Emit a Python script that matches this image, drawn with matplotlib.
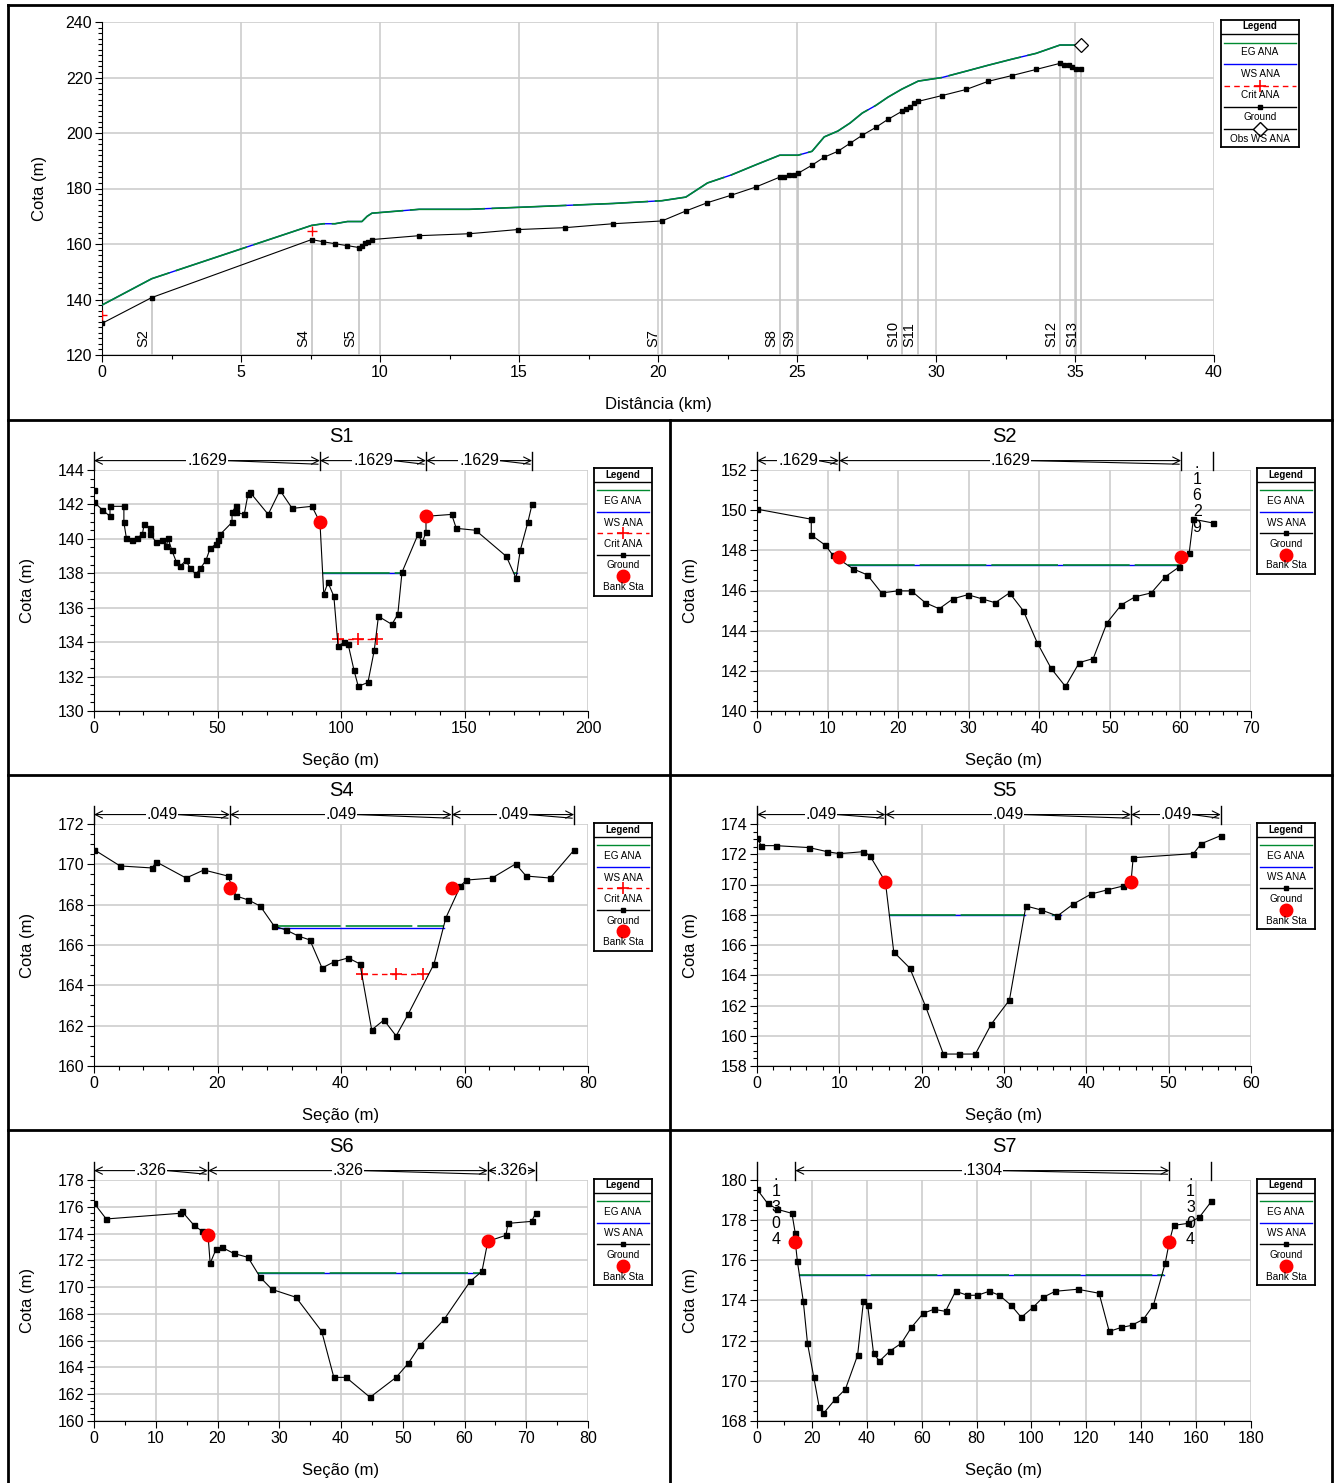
import matplotlib
matplotlib.use('Agg')
import numpy as np
import matplotlib.pyplot as plt
import matplotlib.transforms as mtransforms
from matplotlib.lines import Line2D
from matplotlib.ticker import MultipleLocator

plt.rcParams['font.family'] = ['Liberation Sans', 'DejaVu Sans']

W, H = 1339, 1483
GREEN = '#008a30'
BLUE = '#0000ff'
GRID = '#cdcdcd'

# ---------------- longitudinal profile ----------------
ground_km = [0, 1.79, 7.54, 7.96, 8.38, 8.83, 9.26, 9.35, 9.47, 9.56, 9.71, 11.41, 13.21,
             14.95, 16.67, 18.38, 20.14, 21.0, 21.78, 22.64, 23.51, 24.38, 24.54, 24.73,
             24.88, 25.04, 25.54, 25.98, 26.47, 26.91, 27.35, 27.83, 28.27, 28.77, 28.92,
             29.08, 29.22, 29.36, 30.22, 31.09, 31.87, 32.73, 33.6, 34.46, 34.62, 34.78,
             34.91, 35.05, 35.2]
ground_z = [131.4, 140.7, 161.6, 160.8, 160.1, 159.4, 158.7, 159.4, 160.4, 160.8, 161.6,
            163.0, 163.7, 165.2, 165.9, 167.3, 168.3, 171.9, 174.9, 177.6, 180.5, 184.1,
            184.1, 184.8, 184.8, 185.5, 188.4, 191.3, 193.4, 196.3, 199.2, 202.0, 204.9,
            207.8, 208.5, 209.2, 210.7, 211.4, 213.5, 215.7, 218.6, 220.7, 222.9, 225.1,
            224.4, 224.4, 223.7, 223.0, 223.0]
eg_km = [0, 1.79, 7.54, 7.96, 8.38, 8.83, 9.35, 9.54, 9.71, 11.41, 13.21, 14.95, 16.67,
         18.38, 20.14, 21.0, 21.78, 22.64, 23.51, 24.38, 25.04, 25.54, 25.98, 26.47, 26.91,
         27.35, 27.83, 28.27, 28.77, 29.36, 30.22, 31.09, 31.87, 32.73, 33.6, 34.46, 35.2]
eg_z = [138.0, 147.5, 166.7, 167.3, 167.3, 168.1, 168.1, 170.0, 171.1, 172.5, 172.5, 173.2,
        173.9, 174.6, 175.6, 176.9, 182.0, 184.9, 188.5, 192.0, 192.0, 193.4, 198.6, 200.7,
        203.6, 207.2, 209.9, 212.9, 215.8, 218.7, 220.0, 222.3, 224.4, 226.6, 228.7, 231.7,
        231.7]
ws_z = eg_z
crit_km = [0, 7.54]
crit_z = [134.5, 164.6]
obs_km = [35.2]
obs_z = [231.6]
sec_names = ['S2', 'S4', 'S5', 'S7', 'S8', 'S9', 'S10', 'S11', 'S12', '', 'S13']
sec_km = [1.79, 7.54, 9.26, 20.14, 24.38, 25.04, 28.77, 29.36, 34.46, 35.05, 35.2]

# ---------------- cross sections ----------------
s1_x = [0, 0, 3.41, 6.47, 6.47, 12.10, 12.10, 13.12, 15.33, 17.21, 19.59, 20.27, 22.83, 22.83,
        25.21, 27.43, 29.30, 29.98, 31.52, 33.39, 34.92, 37.14, 39.01, 41.23, 43.10, 45.32,
        47.02, 49.23, 50.09, 51.11, 55.88, 55.88, 57.41, 57.58, 60.82, 62.35, 63.20, 70.53,
        75.30, 80.24, 88.25, 91.48, 93.02, 94.72, 97.11, 98.81, 101.20, 102.90, 105.28,
        106.99, 110.91, 113.46, 115.16, 120.61, 123.00, 124.70, 131.18, 132.88, 134.41,
        134.41, 144.80, 146.67, 154.51, 166.95, 170.87, 172.57, 175.64, 177.35]
s1_z = [142.84, 142.14, 141.68, 141.31, 141.89, 141.89, 140.96, 140.03, 139.91, 140.03,
        140.26, 140.84, 140.61, 140.26, 139.80, 139.91, 139.57, 140.03, 139.33, 138.64,
        138.40, 138.75, 138.29, 137.94, 138.29, 138.75, 139.45, 139.68, 139.91, 140.26,
        140.96, 141.54, 141.89, 141.54, 141.42, 142.59, 142.70, 141.42, 142.82, 141.77,
        141.89, 140.96, 136.78, 137.47, 136.66, 133.76, 133.99, 133.87, 132.36, 131.43,
        131.66, 133.52, 135.50, 135.03, 135.62, 138.06, 140.26, 139.80, 140.38, 141.31,
        141.42, 140.61, 140.50, 138.98, 137.71, 139.33, 140.96, 142.01]
s1_bank_x = [91.48, 134.41]
s1_bank_z = [140.96, 141.31]
s1_ws = 138.0
s1_ws_spans = [(92.6, 124.7), (40.85, 41.55), (169.97, 171.17)]
s1_crit = 134.2
s1_crit_x = [98.8, 106.8, 114.65]
s1_n_x = [0, 91.48, 134.41, 177.35]
s1_n = ['.1629', '.1629', '.1629']

s2_x = [0, 7.69, 7.69, 9.66, 10.73, 13.65, 15.62, 17.65, 19.92, 21.88, 23.85, 25.82, 27.79,
        29.87, 31.84, 33.75, 35.78, 37.74, 39.71, 41.68, 43.71, 45.67, 47.64, 49.61, 51.64,
        53.60, 55.87, 57.84, 59.81, 61.24, 61.83, 64.64]
s2_z = [150.05, 149.55, 148.76, 148.26, 147.77, 147.07, 146.78, 145.88, 145.98, 145.98,
        145.39, 145.09, 145.59, 145.79, 145.59, 145.39, 145.88, 144.99, 143.40, 142.12,
        141.22, 142.41, 142.61, 144.40, 145.29, 145.69, 145.88, 146.68, 147.17, 147.87,
        149.55, 149.36]
s2_bank_x = [11.63, 60.10]
s2_bank_z = [147.67, 147.67]
s2_ws = 147.25
s2_ws_spans = [(12.9, 60.1)]
s2_n_x = [0, 11.63, 60.10, 64.64]
s2_n = ['.1629', '.1629', '.1629']

s4_x = [0, 4.22, 9.40, 10.09, 14.92, 17.79, 21.67, 23.03, 25.01, 26.92, 29.17, 31.14, 33.05,
        34.96, 36.93, 38.84, 41.16, 43.07, 44.97, 46.95, 48.93, 50.90, 55.06, 56.97, 59.35,
        60.31, 64.46, 68.28, 69.98, 73.87, 77.75]
s4_z = [170.73, 169.92, 169.82, 170.12, 169.32, 169.72, 169.42, 168.43, 168.23, 167.93,
        166.94, 166.74, 166.45, 166.25, 164.86, 165.16, 165.36, 165.06, 161.79, 162.28,
        161.49, 162.58, 165.06, 167.34, 168.93, 169.22, 169.32, 170.02, 169.42, 169.32,
        170.71]
s4_bank_x = [22.01, 57.92]
s4_bank_z = [168.83, 168.83]
s4_eg = 166.94
s4_ws = 166.84
s4_ws_spans = [(29.2, 56.6)]
s4_crit = 164.57
s4_crit_x = [43.34, 48.93, 53.29]
s4_n_x = [0, 22.01, 57.92, 77.75]
s4_n = ['.049', '.049', '.049']

s5_x = [0, 0.51, 2.25, 6.34, 8.53, 10.02, 12.93, 13.70, 15.59, 16.61, 18.55, 20.44, 22.64,
        24.58, 26.52, 28.47, 30.66, 32.66, 34.55, 36.49, 38.43, 40.58, 42.52, 44.46, 45.43,
        45.69, 53.00, 53.97, 56.32]
s5_z = [173.10, 172.57, 172.57, 172.44, 172.17, 172.04, 172.17, 171.91, 170.19, 165.54,
        164.48, 161.99, 158.79, 158.79, 158.79, 160.78, 162.36, 168.58, 168.31, 167.92,
        168.71, 169.37, 169.64, 169.90, 170.19, 171.77, 172.04, 172.70, 173.23]
s5_bank_x = [15.59, 45.43]
s5_bank_z = [170.19, 170.19]
s5_ws = 168.0
s5_ws_spans = [(16.0, 32.5), (35.8, 36.9)]
s5_n_x = [0, 15.59, 45.43, 56.32]
s5_n = ['.049', '.049', '.049']

s6_x = [0, 1.98, 13.90, 14.24, 16.15, 17.44, 18.47, 18.81, 19.76, 20.72, 22.62, 24.94, 26.92,
        28.82, 32.71, 36.87, 38.84, 40.82, 44.70, 48.93, 50.90, 52.81, 56.70, 60.92, 62.83,
        63.78, 66.71, 67.05, 70.87, 71.55]
s6_z = [176.28, 175.09, 175.51, 175.66, 174.64, 174.19, 173.87, 171.78, 172.82, 172.97,
        172.52, 172.22, 170.73, 169.83, 169.24, 166.70, 163.26, 163.26, 161.77, 163.26,
        164.31, 165.65, 167.59, 170.43, 171.18, 173.42, 173.87, 174.76, 174.91, 175.54]
s6_bank_x = [18.47, 63.78]
s6_bank_z = [173.87, 173.42]
s6_ws = 171.03
s6_ws_spans = [(26.6, 62.9)]
s6_n_x = [0, 18.47, 63.78, 71.55]
s6_n = ['.326', '.326', '.326']

s7_x = [0, 3.83, 7.36, 12.73, 13.95, 13.95, 14.72, 16.87, 18.40, 20.70, 22.69, 24.23, 28.52,
        32.20, 36.65, 38.79, 40.33, 42.47, 44.62, 48.30, 52.59, 56.27, 60.56, 64.40, 68.69,
        72.37, 76.66, 80.34, 84.64, 88.32, 92.61, 96.29, 100.58, 104.26, 108.71, 116.84,
        124.65, 128.34, 132.78, 136.46, 140.75, 144.43, 148.73, 150.26, 151.79, 157.01,
        161.15, 165.60]
s7_z = [179.54, 178.84, 178.54, 178.34, 177.34, 176.93, 175.95, 173.96, 171.87, 170.17,
        168.68, 168.38, 169.08, 169.58, 171.27, 173.96, 173.76, 171.37, 170.98, 171.47,
        171.87, 172.66, 173.36, 173.56, 173.46, 174.46, 174.26, 174.26, 174.46, 174.26,
        173.76, 173.16, 173.66, 174.16, 174.46, 174.56, 174.36, 172.46, 172.66, 172.76,
        173.06, 173.76, 175.85, 176.93, 177.74, 177.84, 178.14, 178.94]
s7_bank_x = [13.95, 150.26]
s7_bank_z = [176.93, 176.93]
s7_ws = 175.25
s7_ws_spans = [(15.3, 148.2)]
s7_n_x = [0, 13.95, 150.26, 165.60]
s7_n = ['.1304', '.1304', '.1304']

fig = plt.figure(figsize=(W / 100, H / 100), dpi=100)


def px_rect(x0, y0, x1, y1):
    return [x0 / W, 1 - y1 / H, (x1 - x0) / W, (y1 - y0) / H]


def fig_line(x0, y0, x1, y1):
    fig.add_artist(Line2D([x0 / W, x1 / W], [1 - y0 / H, 1 - y1 / H], color='black', lw=2))


def style(ax, xlim, ylim, xmaj, xmin, ymaj, ymin):
    ax.set_xlim(*xlim)
    ax.set_ylim(*ylim)
    ax.xaxis.set_major_locator(MultipleLocator(xmaj))
    ax.xaxis.set_minor_locator(MultipleLocator(xmin))
    ax.yaxis.set_major_locator(MultipleLocator(ymaj))
    ax.yaxis.set_minor_locator(MultipleLocator(ymin))
    ax.grid(True, which='major', color=GRID, lw=1.2)
    ax.set_axisbelow(True)
    ax.spines['top'].set_visible(False)
    ax.spines['right'].set_visible(False)
    ax.tick_params(which='major', direction='out', length=5, width=0.8, labelsize=11.5, pad=2)
    ax.tick_params(which='minor', direction='out', length=3, width=0.8)


def legend_box(x, y, w, h, keys, first=22, step=21.5, off=11):
    lax = fig.add_axes(px_rect(x, y, x + w, y + h))
    lax.set_xlim(0, w)
    lax.set_ylim(h, 0)
    lax.set_xticks([])
    lax.set_yticks([])
    for s in lax.spines.values():
        s.set_linewidth(1.3)
    lax.text(w / 2, 6.5, 'Legend', ha='center', va='center', fontsize=7, fontweight='bold')
    lax.plot([0, w], [14, 14], color='black', lw=1)
    labels = {'eg': 'EG ANA', 'ws': 'WS ANA', 'crit': 'Crit ANA', 'ground': 'Ground',
              'bank': 'Bank Sta', 'obs': 'Obs WS ANA'}
    for i, k in enumerate(keys):
        ly = first + i * step
        xs = [3, w - 3]
        if k == 'eg':
            lax.plot(xs, [ly, ly], color=GREEN, lw=1)
        elif k == 'ws':
            lax.plot(xs, [ly, ly], color=BLUE, lw=1)
        elif k == 'crit':
            lax.plot(xs, [ly, ly], color='red', lw=1, ls=(0, (4, 3)))
            lax.plot([w / 2], [ly], '+', color='red', ms=8, mew=1.2)
        elif k == 'ground':
            lax.plot(xs, [ly, ly], color='black', lw=1)
            lax.plot([w / 2], [ly], 's', color='black', ms=3.5)
        elif k == 'bank':
            lax.plot([w / 2], [ly], 'o', color='red', ms=9)
        elif k == 'obs':
            lax.plot(xs, [ly, ly], color='black', lw=1)
            lax.plot([w / 2], [ly], 'D', mfc='white', mec='black', ms=7)
        lax.text(w / 2, ly + off, labels[k], ha='center', va='center', fontsize=7.2)


def manning(ax, bounds, labels, stacked=(), stack_y=1.054):
    tr = mtransforms.blended_transform_factory(ax.transData, ax.transAxes)
    x_per_px = (ax.get_xlim()[1] - ax.get_xlim()[0]) / 494
    for b in bounds:
        ax.plot([b, b], [1.0, 1.075], transform=tr, color='black', lw=1, clip_on=False)
    ya = 1.039
    for i, lab in enumerate(labels):
        x0, x1 = bounds[i], bounds[i + 1]
        xm = (x0 + x1) / 2
        if i in stacked:
            ax.text(xm, stack_y, '\n'.join(lab), transform=tr, ha='center', va='top',
                    fontsize=11.5, linespacing=1.08, clip_on=False)
            continue
        for xe in (x0, x1):
            ax.annotate('', xy=(xe, ya), xytext=(xm, ya), xycoords=tr, textcoords=tr,
                        arrowprops=dict(arrowstyle='->', lw=0.8, color='black',
                                        shrinkA=0, shrinkB=0, mutation_scale=13),
                        annotation_clip=False)
        half = 4.1 * len(lab) * x_per_px
        if x1 - xm > half + 8 * x_per_px:
            ax.plot([xm + half, x1 - 2 * x_per_px], [ya, ya - 0.015], transform=tr,
                    color='black', lw=0.8, clip_on=False)
        ax.text(xm, ya, lab, transform=tr, ha='center', va='center', fontsize=11.5,
                bbox=dict(fc='white', ec='none', pad=0.5), clip_on=False)


def section(rect, name, gx, gz, bx, bz, ws, spans, nx, nlab, xlim, ylim, xmaj, xmin,
            eg=None, crit=None, crit_x=None, stacked=(), stack_y=1.054):
    ax = fig.add_axes(px_rect(*rect))
    style(ax, xlim, ylim, xmaj, xmin, 2, 0.5)
    egv = ws if eg is None else eg
    for a, b in spans:
        ax.plot([a, b], [ws, ws], color=BLUE, lw=1, zorder=3)
        ax.plot([a, b], [egv, egv], color=GREEN, lw=1.2, ls=(0, (40, 3)), zorder=3)
    if crit is not None:
        ax.plot(crit_x, [crit] * len(crit_x), color='red', lw=1, ls=(0, (4, 3)),
                marker='+', ms=9, mew=1.2, zorder=4)
    ax.plot(gx, gz, color='black', lw=0.8, marker='s', ms=3.6, zorder=5)
    ax.plot(bx, bz, 'o', color='red', ms=9, zorder=6)
    manning(ax, nx, nlab, stacked, stack_y)
    ax.text(0.5, 1.14, name, transform=ax.transAxes, ha='center', va='center', fontsize=14.5)
    ax.text(-67 / 494, 0.5, 'Cota (m)', transform=ax.transAxes, rotation=90,
            ha='center', va='center', fontsize=12)
    ax.text(0.5, -49 / 241, 'Seção (m)', transform=ax.transAxes, ha='center', va='center',
            fontsize=12)
    return ax


# ---------------- top profile ----------------
ax = fig.add_axes(px_rect(102, 22, 1214, 355))
style(ax, (0, 40), (120, 240), 5, 2.5, 20, 2)
tops = np.interp(sec_km, ground_km, ground_z)
ax.vlines(sec_km, 120, tops, color='#c4c4c4', lw=1.2, zorder=1.5)
for name, km in zip(sec_names, sec_km):
    if name:
        ax.text(km - 0.06, 123, name, rotation=90, ha='right', va='bottom', fontsize=10.5)
ax.plot(eg_km, ws_z, color=BLUE, lw=1, zorder=3)
ax.plot(eg_km, eg_z, color=GREEN, lw=1.2, ls=(0, (45, 4)), zorder=3)
ax.plot(ground_km, ground_z, color='black', lw=0.8, marker='s', ms=3.2, zorder=4)
ax.plot(crit_km, crit_z, '+', color='red', ms=7, mew=1, zorder=5)
ax.plot(obs_km, obs_z, 'D', mfc='white', mec='black', ms=7, mew=0.9, zorder=6, clip_on=False)
ax.text(-0.0558, 0.5, 'Cota (m)', transform=ax.transAxes, rotation=90, ha='center',
        va='center', fontsize=12)
ax.text(0.5, -49 / 333, 'Distância (km)', transform=ax.transAxes, ha='center', va='center',
        fontsize=12)
legend_box(1221, 20, 78, 127, ['eg', 'ws', 'crit', 'ground', 'obs'], first=23, off=9.5)

# ---------------- sections ----------------
section((94, 470, 588, 711), 'S1', s1_x, s1_z, s1_bank_x, s1_bank_z, s1_ws, s1_ws_spans,
        s1_n_x, s1_n, (0, 200), (130, 144), 50, 10, crit=s1_crit, crit_x=s1_crit_x)
legend_box(594, 468, 58, 128, ['eg', 'ws', 'crit', 'ground', 'bank'])

section((757, 470, 1251, 711), 'S2', s2_x, s2_z, s2_bank_x, s2_bank_z, s2_ws, s2_ws_spans,
        s2_n_x, s2_n, (0, 70), (140, 152), 10, 2, stacked=(2,), stack_y=1.058)
legend_box(1257, 468, 58, 106, ['eg', 'ws', 'ground', 'bank'])

section((94, 824, 588, 1066), 'S4', s4_x, s4_z, s4_bank_x, s4_bank_z, s4_ws, s4_ws_spans,
        s4_n_x, s4_n, (0, 80), (160, 172), 20, 4, eg=s4_eg, crit=s4_crit, crit_x=s4_crit_x)
legend_box(594, 823, 58, 128, ['eg', 'ws', 'crit', 'ground', 'bank'])

section((757, 824, 1251, 1066), 'S5', s5_x, s5_z, s5_bank_x, s5_bank_z, s5_ws, s5_ws_spans,
        s5_n_x, s5_n, (0, 60), (158, 174), 10, 2)
legend_box(1257, 823, 58, 106, ['eg', 'ws', 'ground', 'bank'])

section((94, 1180, 588, 1421), 'S6', s6_x, s6_z, s6_bank_x, s6_bank_z, s6_ws, s6_ws_spans,
        s6_n_x, s6_n, (0, 80), (160, 178), 10, 5)
legend_box(594, 1179, 58, 106, ['eg', 'ws', 'ground', 'bank'])

section((757, 1180, 1251, 1421), 'S7', s7_x, s7_z, s7_bank_x, s7_bank_z, s7_ws, s7_ws_spans,
        s7_n_x, s7_n, (0, 180), (168, 180), 20, 10, stacked=(0, 2), stack_y=1.048)
legend_box(1257, 1179, 58, 106, ['eg', 'ws', 'ground', 'bank'])

# panel frames
fig_line(8, 5, 1332, 5)
fig_line(8, 5, 8, 1483)
fig_line(1332, 5, 1332, 1483)
fig_line(8, 420, 1332, 420)
fig_line(8, 775, 1332, 775)
fig_line(8, 1130, 1332, 1130)
fig_line(670, 420, 670, 1483)

fig.savefig('out.png', dpi=100)
